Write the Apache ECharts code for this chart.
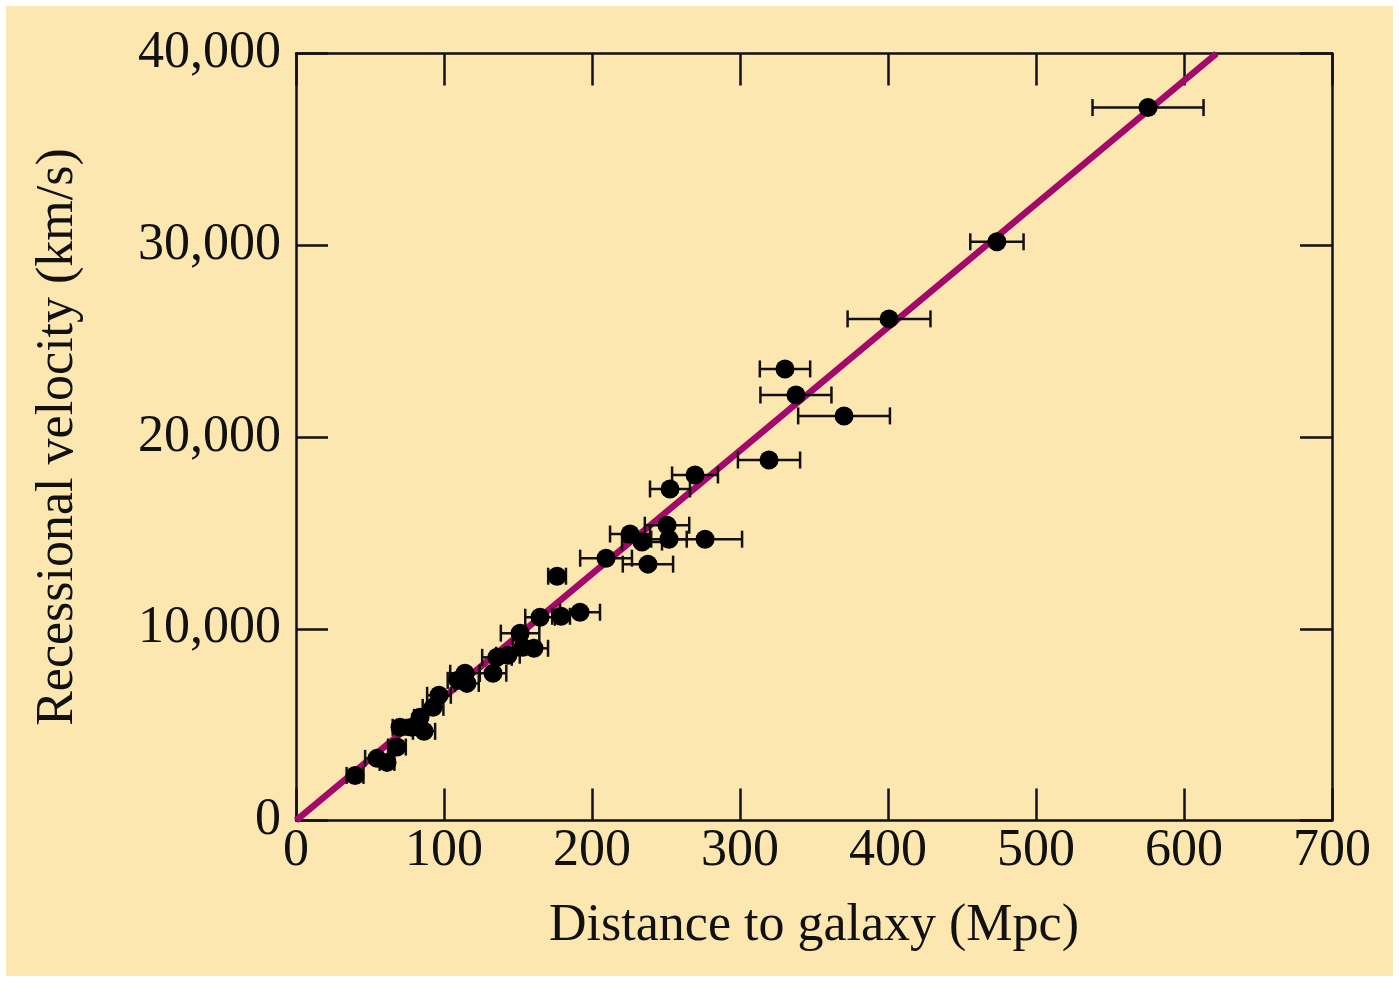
<!DOCTYPE html>
<html>
<head>
<meta charset="utf-8">
<script src="https://cdn.jsdelivr.net/npm/echarts@6/dist/echarts.min.js"></script>
<style>
  html, body { margin: 0; padding: 0; background: #ffffff; }
  #chart { position: absolute; left: 6px; top: 6px; width: 1387px; height: 970px; }
</style>
</head>
<body>
<div id="chart"></div>
<script>
// galaxy distance (Mpc), recessional velocity (km/s), distance error (Mpc)
var distance = [39.9, 54.7, 61.5, 68.2, 70.3, 78.4, 83.8, 86.5, 92.6, 96.6,
                109.5, 114.2, 115.5, 133.1, 135.8, 143.2, 151.4, 153.4, 160.8, 164.9,
                179.1, 191.9, 176.4, 209.5, 225.7, 233.8, 237.8, 250.7, 252.0, 276.4,
                252.7, 269.6, 319.6, 330.4, 337.8, 370.3, 400.7, 473.6, 575.7];
var velocity = [2350, 3240, 3030, 3830, 4860, 4860, 5380, 4650, 5900, 6530,
                7310, 7680, 7150, 7680, 8510, 8620, 9770, 9030, 8980, 10600,
                10650, 10860, 12740, 13680, 14940, 14520, 13370, 15400, 14670, 14670,
                17290, 18020, 18800, 23550, 22190, 21100, 26160, 30180, 37180];
var distErr = [5.7, 8, 5, 6, 5, 4, 4, 7.5, 7, 8,
               7, 10, 8, 9, 10, 8, 13, 7, 9.5, 10,
               6, 13.5, 6, 17.5, 13.5, 13.5, 17, 15, 12, 25,
               13.5, 15.5, 21, 17, 24, 31, 28, 18, 37.5];

// best-fit Hubble line
var fitX = [0, 622];
var fitY = [0, 40000];

var xTicks = [0, 700, 100];      // min, max, interval
var yTicks = [0, 40000, 10000];

var serif = '"Liberation Serif", "DejaVu Serif", serif';
var ink = '#111111';

var points = distance.map(function (d, i) { return [d, velocity[i]]; });
var errData = distance.map(function (d, i) { return [d, velocity[i], distErr[i]]; });
var fitLine = fitX.map(function (x, i) { return [x, fitY[i]]; });

function renderErr(params, api) {
    var x = api.value(0), y = api.value(1), e = api.value(2);
    var a = api.coord([x - e, y]);
    var b = api.coord([x + e, y]);
    var cap = 8.5;
    var style = { stroke: ink, lineWidth: 2.5 };
    return {
        type: 'group',
        children: [
            { type: 'line', shape: { x1: a[0], y1: a[1], x2: b[0], y2: b[1] }, style: style },
            { type: 'line', shape: { x1: a[0], y1: a[1] - cap, x2: a[0], y2: a[1] + cap }, style: style },
            { type: 'line', shape: { x1: b[0], y1: b[1] - cap, x2: b[0], y2: b[1] + cap }, style: style }
        ]
    };
}

var tickStyle = { show: true, inside: true, length: 32, lineStyle: { color: ink, width: 2.5 } };
var lineStyle = { show: true, onZero: false, lineStyle: { color: ink, width: 2.5 } };

var chart = echarts.init(document.getElementById('chart'));
chart.setOption({
    backgroundColor: '#FDE7B0',
    animation: false,
    grid: { left: 290, top: 47.5, width: 1036, height: 767 },
    xAxis: [
        {
            type: 'value', min: xTicks[0], max: xTicks[1], interval: xTicks[2],
            position: 'bottom',
            name: 'Distance to galaxy (Mpc)', nameLocation: 'middle', nameGap: 80,
            nameTextStyle: { fontFamily: serif, fontSize: 52, color: ink },
            axisLine: lineStyle, axisTick: tickStyle, splitLine: { show: false },
            axisLabel: { fontFamily: serif, fontSize: 52, color: ink, margin: 5 }
        },
        {
            type: 'value', min: xTicks[0], max: xTicks[1], interval: xTicks[2],
            position: 'top',
            axisLine: lineStyle, axisTick: tickStyle, splitLine: { show: false },
            axisLabel: { show: false }
        }
    ],
    yAxis: [
        {
            type: 'value', min: yTicks[0], max: yTicks[1], interval: yTicks[2],
            position: 'left',
            name: 'Recessional velocity (km/s)', nameLocation: 'middle', nameGap: 212,
            nameTextStyle: { fontFamily: serif, fontSize: 52, color: ink },
            axisLine: lineStyle, axisTick: tickStyle, splitLine: { show: false },
            axisLabel: {
                fontFamily: serif, fontSize: 52, color: ink, margin: 15,
                formatter: function (v) { return v.toLocaleString('en-US'); }
            }
        },
        {
            type: 'value', min: yTicks[0], max: yTicks[1], interval: yTicks[2],
            position: 'right',
            axisLine: lineStyle, axisTick: tickStyle, splitLine: { show: false },
            axisLabel: { show: false }
        }
    ],
    series: [
        {
            type: 'line', data: fitLine, symbol: 'none', clip: true,
            lineStyle: { color: '#A3086B', width: 6.5 }, z: 2
        },
        {
            type: 'custom', data: errData, renderItem: renderErr, z: 3,
            encode: { x: 0, y: 1 }
        },
        {
            type: 'scatter', data: points, symbolSize: 19,
            itemStyle: { color: '#000000', opacity: 1 }, z: 4
        }
    ]
});
</script>
</body>
</html>
